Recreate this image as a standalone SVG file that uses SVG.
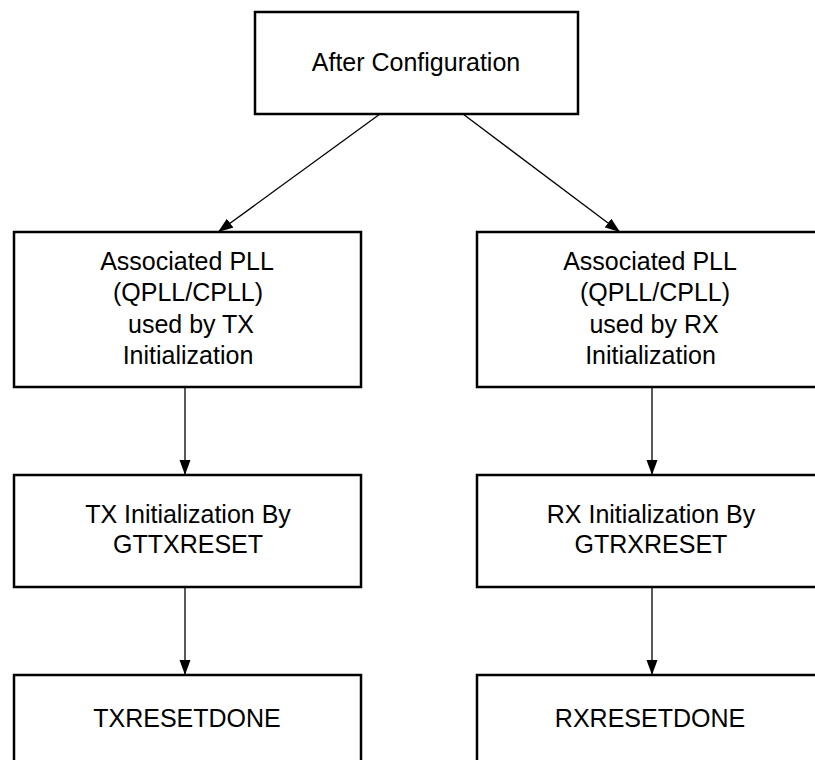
<svg xmlns="http://www.w3.org/2000/svg" width="815" height="760" viewBox="0 0 815 760">
<defs>
<style>
.box{fill:#fff;stroke:#000;stroke-width:2.5}
.lbl{font-family:"Liberation Sans",Arial,sans-serif;font-size:25px;fill:#000;text-anchor:middle}
.conn{stroke:#000;stroke-width:1.3;fill:none;marker-end:url(#arr)}
</style>
<marker id="arr" markerUnits="userSpaceOnUse" markerWidth="16" markerHeight="12" refX="15" refY="5.5" orient="auto">
<path d="M0,0 L15,5.5 L0,11 z" fill="#000"/>
</marker>
</defs>
<rect width="815" height="760" fill="#fff"/>
<g id="connectors">
<line class="conn" x1="380" y1="114" x2="218" y2="232"/>
<line class="conn" x1="463" y1="114" x2="620" y2="232"/>
<line class="conn" x1="185" y1="387" x2="185" y2="475"/>
<line class="conn" x1="652" y1="387" x2="652" y2="475"/>
<line class="conn" x1="185" y1="587" x2="185" y2="675"/>
<line class="conn" x1="652" y1="587" x2="652" y2="675"/>
</g>
<g id="after-config">
<rect class="box" x="255" y="12" width="323" height="102"/>
<text class="lbl" x="416" y="71">After Configuration</text>
</g>
<g id="pll-tx">
<rect class="box" x="14" y="232" width="347" height="155"/>
<text class="lbl" x="187" y="270">Associated PLL</text>
<text class="lbl" x="188" y="301">(QPLL/CPLL)</text>
<text class="lbl" x="191" y="333">used by TX</text>
<text class="lbl" x="188" y="364">Initialization</text>
</g>
<g id="pll-rx">
<rect class="box" x="477" y="232" width="350" height="155"/>
<text class="lbl" x="650" y="270">Associated PLL</text>
<text class="lbl" x="655" y="301">(QPLL/CPLL)</text>
<text class="lbl" x="654" y="333">used by RX</text>
<text class="lbl" x="650.5" y="364">Initialization</text>
</g>
<g id="tx-init">
<rect class="box" x="14" y="475" width="347" height="112"/>
<text class="lbl" x="188" y="523">TX Initialization By</text>
<text class="lbl" x="188" y="553">GTTXRESET</text>
</g>
<g id="rx-init">
<rect class="box" x="477" y="475" width="350" height="112"/>
<text class="lbl" x="651" y="523">RX Initialization By</text>
<text class="lbl" x="651" y="553">GTRXRESET</text>
</g>
<g id="txresetdone">
<rect class="box" x="14" y="675" width="347" height="112"/>
<text class="lbl" x="187" y="727">TXRESETDONE</text>
</g>
<g id="rxresetdone">
<rect class="box" x="477" y="675" width="350" height="112"/>
<text class="lbl" x="650" y="727">RXRESETDONE</text>
</g>
</svg>
